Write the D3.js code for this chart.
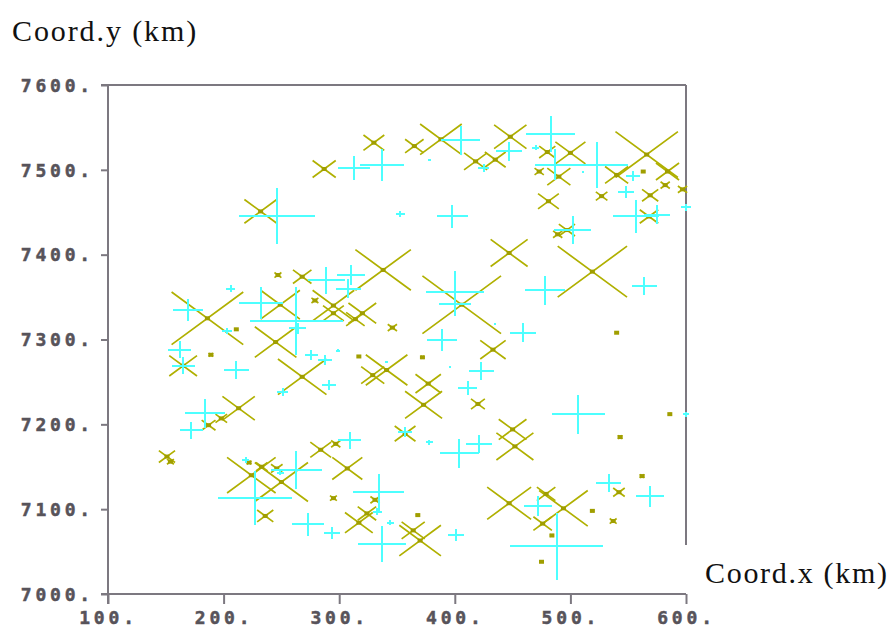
<!DOCTYPE html>
<html>
<head>
<meta charset="utf-8">
<script src="https://cdn.jsdelivr.net/npm/d3@7"></script>
<style>
  html, body { margin: 0; padding: 0; background: #ffffff; }
  svg { display: block; }
</style>
</head>
<body>
<svg id="chart" width="889" height="628"></svg>
<script>
// Axis ticks (km)
const xTicks = [100, 200, 300, 400, 500, 600];
const yTicks = [7000, 7100, 7200, 7300, 7400, 7500, 7600];

// Olive "x" markers: [coord.x, coord.y, half-size] in km
const crossMarks = [
  [330,7532,9],[287,7501,10],[232,7451,14],[388,7536,18],[365,7528,8],[448,7539,14],
  [418,7510,10],[435,7512,9],[480,7521,7],[500,7520,13],[473,7498,4],[490,7492,10],
  [540,7494,10],[566,7518,27],[563,7498,1],[584,7498,10],[527,7469,5],[481,7463,9],
  [582,7482,4],[597,7477,4],[569,7470,7],[568,7445,8],[497,7429,7],[489,7424,4],
  [447,7402,16],[519,7380,30],[338,7382,24],[247,7376,3],[268,7374,8],[186,7325,31],
  [165,7269,12],[189,7282,2],[211,7312,1],[249,7341,17],[245,7297,18],[268,7256,21],
  [295,7340,18],[279,7346,3],[295,7331,9],[320,7331,12],[314,7324,8],[346,7314,4],
  [341,7264,18],[329,7258,10],[317,7280,1],[406,7341,34],[433,7288,11],[540,7308,1],
  [372,7279,1.5],[377,7248,11],[373,7223,16],[420,7224,6],[586,7212,1],[450,7194,12],
  [452,7174,16],[543,7185,2],[357,7189,9],[213,7219,14],[187,7199,6],[198,7207,5],
  [151,7162,7],[154,7156,3],[224,7140,21],[250,7132,23],[233,7150,5],[246,7148,5],
  [222,7155,2],[236,7092,7],[284,7170,9],[297,7177,4],[307,7148,13],[295,7113,3],
  [317,7084,12],[324,7095,8],[331,7111,4],[364,7075,10],[370,7063,18],[368,7093,1.5],
  [447,7107,19],[479,7118,8],[494,7101,21],[476,7083,8],[484,7069,1.5],[475,7038,1],
  [519,7098,1.5],[542,7120,5],[562,7139,2],[537,7086,3]
];

// Cyan "+" markers: [coord.x, coord.y, half-size] in km
const plusMarks = [
  [313,7502,14],[337,7506,19],[246,7446,33],[353,7448,4],[405,7535,17],[447,7522,11],
  [470,7526,3],[425,7502,5],[378,7512,1],[483,7542,21],[487,7506,18],[523,7506,27],
  [511,7498,1],[554,7493,6],[548,7474,7],[557,7445,20],[575,7447,11],[600,7456,4],
  [398,7445,13],[502,7429,16],[400,7356,25],[400,7342,14],[478,7358,17],[564,7363,11],
  [459,7308,11],[435,7318,1],[389,7299,13],[396,7268,1],[423,7263,11],[411,7243,8],
  [507,7212,23],[600,7212,3],[357,7191,6],[378,7179,3],[404,7166,17],[421,7177,11],
  [472,7104,12],[488,7056,40],[533,7131,11],[569,7115,12],[401,7070,7],[334,7120,22],
  [337,7059,21],[289,7370,16],[310,7376,12],[308,7360,11],[169,7335,13],[162,7288,10],
  [165,7269,10],[211,7264,11],[206,7360,4],[203,7310,4],[232,7343,19],[263,7322,40],
  [264,7313,7],[276,7282,6],[288,7276,6],[299,7287,2],[291,7246,6],[251,7238,5],
  [341,7274,1],[184,7213,17],[172,7193,10],[219,7158,3],[227,7113,32],[263,7146,22],
  [249,7143,3],[273,7082,14],[294,7072,7],[309,7181,10],[333,7097,4],[344,7084,3]
];

const svg = d3.select("#chart");

const x = d3.scaleLinear().domain([100, 600]).range([108, 686]);
const y = d3.scaleLinear().domain([7000, 7600]).range([594, 85]);

const axisColor = "#7c7880";
const labelColor = "#57535a";
const olive = "#b0b000";
const oliveDark = "#a09e00";
const cyan = "#4dffff";

// Frame: top edge and right edge (right edge stops above the x title)
svg.append("line")
  .attr("x1", 101).attr("x2", x(600)).attr("y1", y(7600)).attr("y2", y(7600))
  .attr("stroke", axisColor).attr("stroke-width", 2);
svg.append("line")
  .attr("x1", x(600)).attr("x2", x(600)).attr("y1", y(7600)).attr("y2", 545)
  .attr("stroke", axisColor).attr("stroke-width", 2);

// Markers
const gMarks = svg.append("g");

gMarks.selectAll("path.xm")
  .data(crossMarks)
  .join("path")
  .attr("class", "xm")
  .attr("d", d => {
    const [cx, cy, r] = d;
    return `M${x(cx - r)},${y(cy + r)}L${x(cx + r)},${y(cy - r)}` +
           `M${x(cx - r)},${y(cy - r)}L${x(cx + r)},${y(cy + r)}`;
  })
  .attr("fill", "none")
  .attr("stroke", olive)
  .attr("stroke-width", 1.7);

gMarks.selectAll("rect.xc")
  .data(crossMarks)
  .join("rect")
  .attr("class", "xc")
  .attr("x", d => x(d[0]) - 2.5)
  .attr("y", d => y(d[1]) - 2)
  .attr("width", 5)
  .attr("height", 4)
  .attr("fill", oliveDark);

gMarks.selectAll("path.pm")
  .data(plusMarks)
  .join("path")
  .attr("class", "pm")
  .attr("d", d => {
    const [cx, cy, r] = d;
    return `M${x(cx - r)},${y(cy)}L${x(cx + r)},${y(cy)}` +
           `M${x(cx)},${y(cy - r)}L${x(cx)},${y(cy + r)}`;
  })
  .attr("fill", "none")
  .attr("stroke", cyan)
  .attr("stroke-width", 2)
  .attr("shape-rendering", "crispEdges");

// Axes
const xAxis = d3.axisBottom(x).tickValues(xTicks).tickSize(10).tickSizeOuter(0)
  .tickFormat(d => d + ".");
const yAxis = d3.axisLeft(y).tickValues(yTicks).tickSize(7).tickSizeOuter(0)
  .tickFormat(d => d + ".");

const gx = svg.append("g").attr("transform", `translate(0,${y(7000)})`).call(xAxis);
const gy = svg.append("g").attr("transform", `translate(${x(100)},0)`).call(yAxis);

[gx, gy].forEach(g => {
  g.select(".domain").attr("stroke", axisColor).attr("stroke-width", 2);
  g.selectAll(".tick line").attr("stroke", axisColor).attr("stroke-width", 2);
  g.selectAll(".tick text")
    .attr("fill", labelColor)
    .attr("stroke", labelColor)
    .attr("stroke-width", 0.5)
    .style("font-family", "'DejaVu Sans Mono', monospace")
    .style("font-weight", "bold")
    .style("font-size", "18px")
    .style("letter-spacing", "3.8px");
});

gx.select(".domain").attr("d", `M101,0H${x(600)}`);
gy.select(".domain").attr("d", `M0,${y(7600)}V${y(7000) + 10}`);

gx.selectAll(".tick text").attr("dy", "0.71em").attr("y", 17).attr("dx", 0)
  .attr("text-anchor", "middle");
gy.selectAll(".tick text").attr("x", -14).attr("dy", "0.35em");

// Axis titles
svg.append("text")
  .attr("x", 12).attr("y", 41)
  .text("Coord.y (km)")
  .style("font-family", "'Liberation Serif', 'Times New Roman', serif")
  .style("font-size", "30px")
  .style("letter-spacing", "1.9px")
  .attr("fill", "#111");

svg.append("text")
  .attr("x", 705).attr("y", 583)
  .text("Coord.x (km)")
  .style("font-family", "'Liberation Serif', 'Times New Roman', serif")
  .style("font-size", "30px")
  .style("letter-spacing", "1.7px")
  .attr("fill", "#111");
</script>
</body>
</html>
